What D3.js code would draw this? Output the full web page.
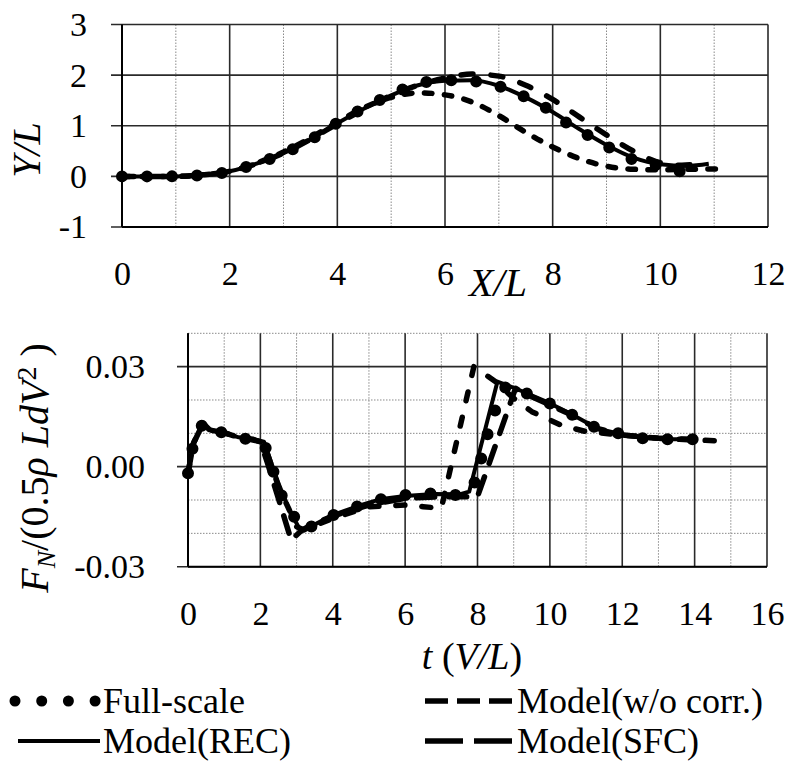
<!DOCTYPE html>
<html lang="en">
<head>
<meta charset="UTF-8">
<title>Trajectory and normal force</title>
<script src="https://d3js.org/d3.v7.min.js"></script>
<style>
    body { margin: 0; background: #fff; }
    svg { font-family: "Liberation Serif", "Times New Roman", "DejaVu Serif", serif; }
    .tick text { font-family: "Liberation Serif", "Times New Roman", "DejaVu Serif", serif; font-size: 34px; fill: #000; }
    .major { stroke: #2a2a2a; stroke-width: 1.6; }
    .minor { stroke: #8a8a8a; stroke-width: 1; stroke-dasharray: 1.5 1.5; }
    .label { font-size: 40px; fill: #000; }
    .legend text { font-size: 36px; fill: #000; }
</style>
</head>
<body>
<div id="chart"></div>
<script>
// ---- top panel: Y/L vs X/L ----
const fsX = [0, 0.46, 0.92, 1.4, 1.88, 2.32, 2.78, 3.2, 3.64, 4.0, 4.44, 4.87, 5.29, 5.78, 6.28, 6.71, 7.17, 7.61, 8.02, 8.37, 8.56, 9.0, 9.4, 9.87, 10.3, 10.76];
const fsY = [0, 0, 0, 0.02, 0.07, 0.19, 0.36, 0.55, 0.81, 1.06, 1.32, 1.55, 1.75, 1.88, 1.9, 1.85, 1.72, 1.5, 1.26, 0.97, 0.87, 0.6, 0.37, 0.24, 0.1, 0.1];

const recX = [0, 1, 1.5, 2, 2.5, 3, 3.5, 4, 4.5, 5, 5.5, 6, 6.5, 7, 7.5, 8, 8.5, 9, 9.5, 10, 10.5, 10.9];
const recY = [0, 0, 0.03, 0.1, 0.25, 0.46, 0.73, 1.05, 1.34, 1.6, 1.8, 1.89, 1.9, 1.79, 1.56, 1.27, 0.93, 0.62, 0.37, 0.24, 0.21, 0.25];

const woX = [0, 1, 1.5, 2, 2.5, 3, 3.5, 4, 4.5, 5, 5.5, 6, 6.5, 7, 7.5, 8, 8.5, 9, 9.5, 10, 10.5, 11.2];
const woY = [0, 0, 0.03, 0.1, 0.26, 0.48, 0.76, 1.07, 1.36, 1.56, 1.65, 1.61, 1.47, 1.2, 0.87, 0.58, 0.35, 0.2, 0.14, 0.13, 0.14, 0.15];

const sfcX = [0, 1, 1.5, 2, 2.5, 3, 3.5, 4, 4.5, 5, 5.5, 6, 6.5, 7, 7.5, 8, 8.5, 9, 9.5, 10, 10.4, 10.8];
const sfcY = [0, 0, 0.03, 0.1, 0.25, 0.46, 0.73, 1.04, 1.33, 1.6, 1.8, 1.94, 2.02, 1.98, 1.8, 1.52, 1.17, 0.82, 0.5, 0.27, 0.22, 0.27];

// ---- bottom panel: normal force vs t ----
const fsT = [0, 0.15, 0.42, 0.6, 0.97, 1.34, 1.71, 2.08, 2.27, 2.45, 2.72, 3.0, 3.18, 3.65, 4.1, 4.66, 5.3, 5.76, 6.0, 6.75, 7.44, 7.77, 7.9, 8.08, 8.25, 8.45, 8.8, 9.24, 9.9, 10.55, 11.2, 12, 12.73, 13.4, 14.1];
const fsF = [-0.002, 0.007, 0.0132, 0.011, 0.0102, 0.0088, 0.0082, 0.0075, 0.002, -0.005, -0.012, -0.016, -0.019, -0.0168, -0.014, -0.012, -0.0098, -0.0092, -0.0085, -0.008, -0.0085, -0.0075, -0.0055, 0.0015, 0.0087, 0.016, 0.0245, 0.0225, 0.0195, 0.016, 0.012, 0.0097, 0.0082, 0.0082, 0.0082];

const recT = [0, 0.15, 0.42, 0.6, 1.0, 1.4, 1.8, 2.1, 2.5, 2.8, 3.1, 3.3, 4.0, 4.7, 5.3, 6.0, 6.8, 7.5, 7.77, 8.55, 9.15, 9.9, 10.55, 11.3, 12, 12.7, 13.4, 14.1];
const recF = [-0.002, 0.007, 0.013, 0.011, 0.0102, 0.0088, 0.0082, 0.0075, -0.005, -0.013, -0.019, -0.0185, -0.0145, -0.0118, -0.0098, -0.0088, -0.0082, -0.0083, -0.0075, 0.0255, 0.023, 0.0195, 0.016, 0.0115, 0.0097, 0.0085, 0.0082, 0.0082];

const woT = [0, 0.15, 0.42, 0.6, 1.0, 1.4, 1.8, 2.1, 2.5, 2.8, 3.0, 3.2, 4.0, 5.0, 6.0, 6.5, 7.0, 7.9, 8.5, 9.0, 9.5, 10.3, 11.0, 12, 13, 14, 14.85];
const woF = [-0.002, 0.007, 0.013, 0.011, 0.0102, 0.0088, 0.0082, 0.007, -0.006, -0.013, -0.018, -0.019, -0.0155, -0.012, -0.0115, -0.012, -0.0125, 0.03, 0.0255, 0.0205, 0.0165, 0.0125, 0.0105, 0.0095, 0.0085, 0.008, 0.0077];

const sfcT = [0, 0.15, 0.42, 0.6, 1.0, 1.4, 1.8, 2.0, 2.2, 2.85, 3.15, 3.5, 4.0, 5, 6, 7, 8.0, 9.05, 9.5, 10, 10.5, 11.3, 12, 13, 14.0];
const sfcF = [-0.002, 0.007, 0.013, 0.011, 0.0102, 0.0088, 0.008, 0.0075, 0.001, -0.022, -0.019, -0.017, -0.0148, -0.0115, -0.0095, -0.009, -0.009, 0.0235, 0.021, 0.0185, 0.016, 0.0115, 0.0095, 0.0085, 0.0082];

// tick values
const topXTicks = [0, 2, 4, 6, 8, 10, 12];
const topYTicks = [-1, 0, 1, 2, 3];
const botXTicks = [0, 2, 4, 6, 8, 10, 12, 14, 16];
const botYTicks = [-0.03, 0, 0.03];

const width = 791, height = 767;

const svg = d3.select("#chart").append("svg")
    .attr("width", width)
    .attr("height", height);

svg.append("rect").attr("width", width).attr("height", height).attr("fill", "#fff");

const xTop = d3.scaleLinear().domain([0, 12]).range([122, 768]);
const yTop = d3.scaleLinear().domain([-1, 3]).range([227, 24.5]);
const xBot = d3.scaleLinear().domain([0, 16]).range([188, 767]);
const yBot = d3.scaleLinear().domain([-0.03, 0.04]).range([566.7, 333.3]);

function grid(x, y, xMajor, xMinor, yMajor, yMinor) {
    const g = svg.append("g");
    const [x0, x1] = x.range(), [y0, y1] = y.range();
    g.selectAll(null).data(xMinor).enter().append("line").attr("class", "minor")
        .attr("x1", d => x(d)).attr("x2", d => x(d)).attr("y1", y0).attr("y2", y1);
    g.selectAll(null).data(yMinor).enter().append("line").attr("class", "minor")
        .attr("x1", x0).attr("x2", x1).attr("y1", d => y(d)).attr("y2", d => y(d));
    g.selectAll(null).data(xMajor).enter().append("line").attr("class", "major")
        .attr("x1", d => x(d)).attr("x2", d => x(d)).attr("y1", y0).attr("y2", y1);
    // major horizontals run a little past the left edge (tick marks)
    g.selectAll(null).data(yMajor).enter().append("line").attr("class", "major")
        .attr("x1", x0 - 11).attr("x2", x1).attr("y1", d => y(d)).attr("y2", d => y(d));
    // axis lines darker
    g.append("line").attr("x1", x0).attr("x2", x0).attr("y1", y0).attr("y2", y1)
        .attr("stroke", "#000").attr("stroke-width", 2);
    g.append("line").attr("x1", x0).attr("x2", x1).attr("y1", y0).attr("y2", y0)
        .attr("stroke", "#000").attr("stroke-width", 2);
}

grid(xTop, yTop, topXTicks, [1, 3, 5, 7, 9, 11], topYTicks, []);
grid(xBot, yBot, botXTicks, [1, 3, 5, 7, 9, 11, 13, 15], botYTicks, [-0.02, -0.01, 0.01, 0.02, 0.04]);

function axes(x, y, xt, yt, fmt, xPad, yPad) {
    svg.append("g")
        .attr("transform", `translate(0,${y.range()[0]})`)
        .call(d3.axisBottom(x).tickValues(xt).tickSize(0).tickPadding(xPad).tickFormat(d => String(d)))
        .call(g => g.select(".domain").remove());
    svg.append("g")
        .attr("transform", `translate(${x.range()[0]},0)`)
        .call(d3.axisLeft(y).tickValues(yt).tickSize(0).tickPadding(yPad).tickFormat(fmt))
        .call(g => g.select(".domain").remove());
}

axes(xTop, yTop, topXTicks, topYTicks, d => String(d), 34, 35);
axes(xBot, yBot, botXTicks, botYTicks, d => d.toFixed(2), 34, 43);

// series
const styles = {
    full: {w: 12, dash: "0 25", cap: "round"},
    rec: {w: 4, dash: null, cap: "butt"},
    woTop: {w: 5.5, dash: "7.5 12.5", cap: "round"},
    sfcTop: {w: 5.5, dash: "12 18", cap: "round"},
    woBot: {w: 5.5, dash: "9 17", cap: "round"},
    sfcBot: {w: 5.5, dash: "18 14", cap: "round"}
};

function series(xs, ys, x, y, curve, st) {
    const line = d3.line().x(d => x(d[0])).y(d => y(d[1])).curve(curve);
    svg.append("path")
        .datum(d3.zip(xs, ys))
        .attr("d", line)
        .attr("fill", "none")
        .attr("stroke", "#000")
        .attr("stroke-width", st.w)
        .attr("stroke-dasharray", st.dash)
        .attr("stroke-linecap", st.cap)
        .attr("stroke-linejoin", "round");
}

series(recX, recY, xTop, yTop, d3.curveMonotoneX, styles.rec);
series(sfcX, sfcY, xTop, yTop, d3.curveMonotoneX, styles.sfcTop);
series(woX, woY, xTop, yTop, d3.curveMonotoneX, styles.woTop);
series(fsX, fsY, xTop, yTop, d3.curveMonotoneX, styles.full);

series(recT, recF, xBot, yBot, d3.curveLinear, styles.rec);
series(sfcT, sfcF, xBot, yBot, d3.curveLinear, styles.sfcBot);
series(woT, woF, xBot, yBot, d3.curveLinear, styles.woBot);
series(fsT, fsF, xBot, yBot, d3.curveLinear, styles.full);

// axis titles
svg.append("text").attr("class", "label")
    .attr("transform", "translate(40,150) rotate(-90)")
    .attr("text-anchor", "middle")
    .attr("font-style", "italic")
    .text("Y/L");

svg.append("text").attr("class", "label")
    .attr("x", 498).attr("y", 296)
    .attr("text-anchor", "middle")
    .attr("font-style", "italic")
    .text("X/L");

const tl = svg.append("text").attr("class", "label")
    .attr("x", 472).attr("y", 669)
    .attr("text-anchor", "middle")
    .style("font-size", "38px");
tl.append("tspan").attr("font-style", "italic").text("t");
tl.append("tspan").text(" (");
tl.append("tspan").attr("font-style", "italic").text("V/L");
tl.append("tspan").text(")");

const fl = svg.append("text").attr("class", "label")
    .attr("transform", "translate(48,468) rotate(-90)")
    .attr("text-anchor", "middle");
fl.append("tspan").attr("font-style", "italic").text("F");
fl.append("tspan").attr("font-style", "italic").attr("dy", "0.25em").style("font-size", "26px").text("N");
fl.append("tspan").attr("dy", "-0.16em").text("/(0.5");
fl.append("tspan").attr("font-style", "italic").text("\u03C1 LdV");
fl.append("tspan").attr("dy", "-0.45em").style("font-size", "28px").text("2");
fl.append("tspan").attr("dy", "0.32em").text(" )");

// legend
const legendRows = [
    {label: "Full-scale", st: {w: 11, dash: "0 26.7", cap: "round"}, x1: 15, x2: 96, y: 701, tx: 103},
    {label: "Model(REC)", st: {w: 4, dash: null, cap: "butt"}, x1: 18, x2: 100, y: 741, tx: 103},
    {label: "Model(w/o corr.)", st: {w: 5.5, dash: "23 9", cap: "butt"}, x1: 425, x2: 512, y: 701, tx: 517},
    {label: "Model(SFC)", st: {w: 5.5, dash: "38 11", cap: "butt"}, x1: 425, x2: 512, y: 741, tx: 517}
];

const lg = svg.append("g").attr("class", "legend");
legendRows.forEach(r => {
    lg.append("line")
        .attr("x1", r.x1).attr("x2", r.x2).attr("y1", r.y).attr("y2", r.y)
        .attr("stroke", "#000")
        .attr("stroke-width", r.st.w)
        .attr("stroke-dasharray", r.st.dash)
        .attr("stroke-linecap", r.st.cap);
    lg.append("text").attr("x", r.tx).attr("y", r.y + 12).text(r.label);
});
</script>
</body>
</html>
